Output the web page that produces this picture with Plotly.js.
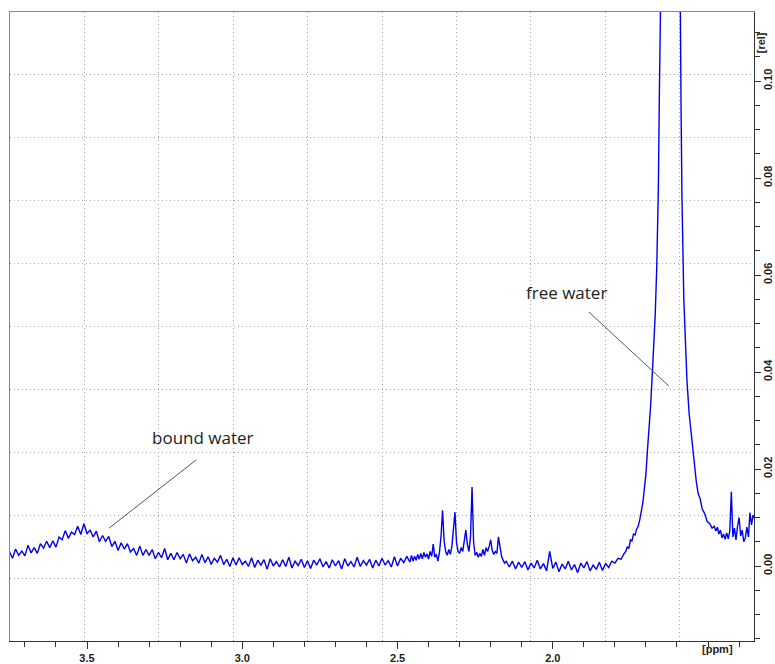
<!DOCTYPE html>
<html>
<head>
<meta charset="utf-8">
<script src="https://cdn.plot.ly/plotly-3.0.1.min.js"></script>
<style>html,body{margin:0;padding:0;background:#fff;}#chart{width:775px;height:664px;}</style>
</head>
<body>
<div id="chart"></div>
<script>
// ---- spectrum data (chemical shift in ppm, intensity in rel units) ----
const ppmA = [3.75,3.74,3.73,3.72,3.71,3.70,3.69,3.68,3.67,3.66,3.65,3.64,3.63,3.62,3.61,3.60,3.59,3.58,3.57,3.56,3.55,3.54,3.53,3.52,3.51,3.50,3.49,3.48,3.47,3.46,3.45,3.44,3.43,3.42,3.41,3.40,3.39,3.38,3.37,3.36,3.35,3.34,3.33,3.32,3.31,3.30,3.29,3.28,3.27,3.26,3.25,3.24,3.23,3.22,3.21,3.20,3.19,3.18,3.17,3.16,3.15,3.14,3.13,3.12,3.11,3.10,3.09,3.08,3.07,3.06,3.05,3.04,3.03,3.02,3.01,3.00,2.99,2.98,2.97,2.96,2.95,2.94,2.93,2.92,2.91,2.90,2.89,2.88,2.87,2.86,2.85,2.84,2.83,2.82,2.81,2.80,2.79,2.78,2.77,2.76,2.75,2.74,2.73,2.72,2.71,2.70,2.69,2.68,2.67,2.66,2.65,2.64,2.63,2.62,2.61,2.60,2.59,2.58,2.57,2.56,2.55,2.54,2.53,2.52,2.51,2.50,2.49,2.48,2.47,2.46];
const relA = [0.0030,0.0016,0.0035,0.0022,0.0031,0.0021,0.0043,0.0027,0.0038,0.0026,0.0046,0.0037,0.0051,0.0038,0.0052,0.0039,0.0060,0.0054,0.0073,0.0057,0.0070,0.0065,0.0082,0.0065,0.0087,0.0067,0.0074,0.0060,0.0072,0.0050,0.0063,0.0051,0.0061,0.0040,0.0051,0.0032,0.0048,0.0035,0.0046,0.0029,0.0036,0.0022,0.0041,0.0022,0.0034,0.0022,0.0034,0.0015,0.0028,0.0017,0.0036,0.0013,0.0026,0.0013,0.0028,0.0015,0.0024,0.0006,0.0025,0.0011,0.0018,0.0006,0.0024,0.0007,0.0019,0.0003,0.0016,0.0008,0.0022,0.0003,0.0014,-0.0001,0.0017,0.0002,0.0017,0.0003,0.0010,-0.0001,0.0017,-0.0003,0.0012,0.0002,0.0013,-0.0007,0.0015,0.0000,0.0009,-0.0002,0.0013,-0.0001,0.0018,-0.0004,0.0010,0.0001,0.0014,-0.0003,0.0011,-0.0005,0.0012,0.0002,0.0015,-0.0002,0.0009,-0.0004,0.0013,0.0000,0.0011,-0.0006,0.0015,0.0000,0.0009,-0.0002,0.0018,-0.0001,0.0011,0.0002,0.0014,-0.0004,0.0012,0.0000,0.0016,0.0002,0.0011,-0.0002,0.0019,0.0000,0.0016,0.0007,0.0020,0.0008];

const ppmB = [2.455,2.450,2.445,2.440,2.435,2.430,2.425,2.420,2.415,2.410,2.405,2.400,2.395,2.390,2.385,2.380,2.375,2.370,2.365,2.360,2.355,2.350,2.345,2.340,2.335,2.330,2.325,2.320,2.315,2.310,2.305,2.300,2.295,2.290,2.285,2.280,2.275,2.270,2.265,2.260,2.255,2.250,2.245,2.240,2.235,2.230,2.225,2.220,2.215,2.210,2.205,2.200,2.195,2.190,2.185,2.180,2.175,2.170,2.165,2.160,2.155,2.150];
const relB = [0.0022,0.0010,0.0020,0.0012,0.0024,0.0014,0.0026,0.0015,0.0028,0.0018,0.0025,0.0014,0.0030,0.0020,0.0045,0.0018,0.0024,0.0010,0.0028,0.0060,0.0115,0.0052,0.0030,0.0022,0.0034,0.0024,0.0040,0.0070,0.0111,0.0048,0.0030,0.0026,0.0038,0.0030,0.0048,0.0074,0.0044,0.0030,0.0060,0.0163,0.0050,0.0022,0.0028,0.0018,0.0026,0.0020,0.0034,0.0022,0.0038,0.0030,0.0040,0.0054,0.0032,0.0024,0.0030,0.0026,0.0060,0.0038,0.0020,0.0012,0.0006,0.0010];

const ppmC = [2.14,2.13,2.12,2.11,2.10,2.09,2.08,2.07,2.06,2.05,2.04,2.03,2.02,2.01,2.00,1.99,1.98,1.97,1.96,1.95,1.94,1.93,1.92,1.91,1.90,1.89,1.88,1.87,1.86,1.85,1.84,1.83,1.82,1.81,1.80,1.79,1.78,1.77];
const relC = [-0.0002,0.0010,-0.0006,0.0008,-0.0003,0.0009,-0.0008,0.0006,-0.0004,0.0012,-0.0006,0.0005,-0.0010,0.0030,-0.0005,0.0008,-0.0012,0.0004,-0.0006,0.0010,-0.0008,0.0003,-0.0014,0.0006,-0.0004,0.0009,-0.0010,0.0002,-0.0007,0.0008,-0.0009,0.0005,-0.0003,0.0010,0.0006,0.0016,0.0014,0.0026];

const ppmD = [1.765,1.760,1.755,1.750,1.745,1.740,1.735,1.730,1.725,1.720,1.715,1.710,1.705,1.700,1.695,1.690,1.685,1.680,1.675,1.670,1.665,1.660,1.657,1.654,1.650,1.640,1.625,1.610,1.600,1.593,1.590,1.587,1.584,1.578,1.572,1.568,1.561,1.552,1.545,1.538,1.532,1.525,1.519,1.511,1.503,1.495,1.487,1.480];
const relD = [0.0030,0.0040,0.0036,0.0054,0.0052,0.0066,0.0064,0.0076,0.0082,0.0095,0.0110,0.0130,0.0160,0.0190,0.0240,0.0280,0.0330,0.0390,0.0450,0.0520,0.0620,0.0780,0.0960,0.1200,0.1600,0.2200,0.2500,0.2400,0.2100,0.1500,0.1140,0.0950,0.0760,0.0550,0.0450,0.0384,0.0315,0.0260,0.0210,0.0175,0.0150,0.0138,0.0118,0.0108,0.0092,0.0088,0.0078,0.0082];

const ppmE = [1.475,1.470,1.465,1.460,1.455,1.450,1.445,1.440,1.435,1.430,1.425,1.420,1.415,1.410,1.405,1.400,1.395,1.390,1.385,1.380,1.375,1.370,1.365,1.360,1.355,1.350];
const relE = [0.0072,0.0080,0.0066,0.0074,0.0058,0.0066,0.0055,0.0068,0.0056,0.0072,0.0153,0.0060,0.0078,0.0054,0.0082,0.0100,0.0062,0.0074,0.0050,0.0058,0.0080,0.0060,0.0110,0.0085,0.0105,0.0098];

// ---- axis ticks ----
const xTickVals = [3.5, 3.0, 2.5, 2.0];
const xTickText = ['3.5', '3.0', '2.5', '2.0'];
const yTickVals = [0.00, 0.02, 0.04, 0.06, 0.08, 0.10];
const yTickText = ['0.00', '0.02', '0.04', '0.06', '0.08', '0.10'];

const ppm = [].concat(ppmA, ppmB, ppmC, ppmD, ppmE);
const rel = [].concat(relA, relB, relC, relD, relE);

const tickFont = {family: 'Liberation Sans, Arial, sans-serif', size: 11, color: '#222', weight: 'bold'};
const noteFont = {family: 'Open Sans, sans-serif', size: 17, color: '#222'};
const gridDots = '1px,3px';

const data = [
  {x: [], y: [], xaxis: 'x2', yaxis: 'y2', type: 'scatter', mode: 'lines', hoverinfo: 'skip', showlegend: false},
  {x: ppm, y: rel, type: 'scatter', mode: 'lines', line: {color: '#0000f0', width: 1.4}, showlegend: false}
];

const layout = {
  width: 775, height: 664,
  margin: {l: 10, r: 21, t: 12, b: 23, pad: 0},
  paper_bgcolor: '#ffffff', plot_bgcolor: '#ffffff',
  showlegend: false,
  xaxis: {
    range: [3.748, 1.352], autorange: false,
    tickvals: xTickVals, ticktext: xTickText,
    ticks: 'outside', ticklen: 7, tickcolor: '#333', tickwidth: 1,
    showgrid: false, zeroline: false,
    showline: true, linecolor: '#333', linewidth: 1,
    tickfont: tickFont,
    minor: {dtick: 0.1, tick0: 0, ticks: 'outside', ticklen: 5, tickcolor: '#333', showgrid: false}
  },
  yaxis: {
    side: 'right',
    range: [-0.01546, 0.11423], autorange: false,
    tickvals: yTickVals, ticktext: yTickText, tickangle: -90,
    ticks: 'outside', ticklen: 6, tickcolor: '#333', tickwidth: 1,
    ticklabelstandoff: -2,
    showgrid: false, zeroline: false,
    showline: true, linecolor: '#333', linewidth: 1,
    tickfont: tickFont,
    minor: {dtick: 0.005, tick0: 0, ticks: 'outside', ticklen: 5, tickcolor: '#333', showgrid: false}
  },
  xaxis2: {
    overlaying: 'x', anchor: 'y2', side: 'top',
    range: [0, 10], autorange: false, dtick: 1, tick0: 0,
    showgrid: true, griddash: gridDots, gridcolor: '#a8a8a8', gridwidth: 1,
    showticklabels: false, ticks: '', zeroline: false,
    showline: true, linecolor: '#888', linewidth: 1
  },
  yaxis2: {
    overlaying: 'y', anchor: 'x2', side: 'left',
    range: [0, 10], autorange: false, dtick: 1, tick0: 0,
    showgrid: true, griddash: gridDots, gridcolor: '#a8a8a8', gridwidth: 1,
    showticklabels: false, ticks: '', zeroline: false,
    showline: true, linecolor: '#888', linewidth: 1
  },
  annotations: [
    {text: 'bound water', x: 3.126, y: 0.0264, xref: 'x', yref: 'y', showarrow: false, font: noteFont},
    {text: 'free water', x: 1.955, y: 0.0563, xref: 'x', yref: 'y', showarrow: false, font: noteFont},
    {text: '[rel]', xref: 'paper', yref: 'paper', x: 1.0195, y: 0.971, textangle: -90, showarrow: false, font: tickFont},
    {text: '[ppm]', xref: 'paper', yref: 'paper', x: 0.9745, y: -0.0254, showarrow: false, font: tickFont}
  ],
  shapes: [
    {type: 'line', xref: 'x', yref: 'y', x0: 3.148, y0: 0.0219, x1: 3.429, y1: 0.0078, line: {color: '#555', width: 1}},
    {type: 'line', xref: 'x', yref: 'y', x0: 1.884, y0: 0.0524, x1: 1.626, y1: 0.0371, line: {color: '#555', width: 1}}
  ]
};

Plotly.newPlot('chart', data, layout, {displayModeBar: false, staticPlot: true});
</script>
</body>
</html>
